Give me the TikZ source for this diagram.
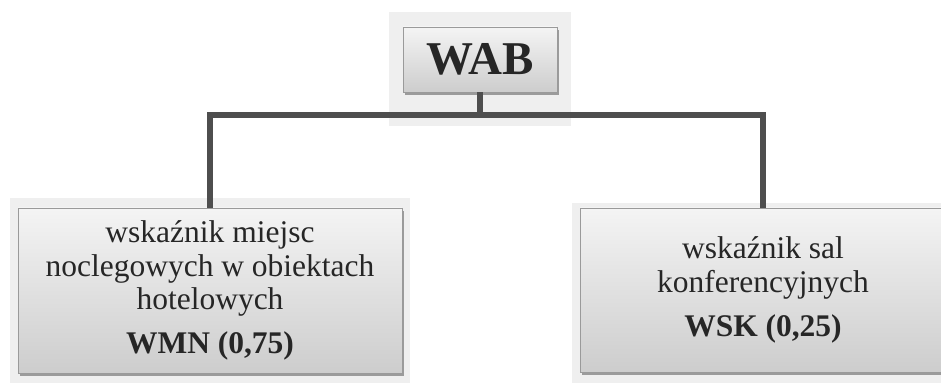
\documentclass[tikz,border=0pt]{standalone}
\usepackage{fontspec}
\setmainfont{Liberation Serif}
\usetikzlibrary{shadows}
\definecolor{panel}{HTML}{EFEFEF}
\definecolor{boxtop}{HTML}{F4F4F4}
\definecolor{boxbot}{HTML}{CDCDCD}
\definecolor{boxedge}{HTML}{9A9A9A}
\definecolor{linkc}{HTML}{4E4E4E}
\definecolor{txt}{HTML}{262626}
\tikzset{
  panelbox/.style={fill=panel, draw=none, inner sep=0pt},
  bevelbox/.style={draw=boxedge, line width=0.8pt, top color=boxtop, bottom color=boxbot,
    inner sep=0pt, align=center, text=txt,
    drop shadow={shadow xshift=1.5pt, shadow yshift=-3pt, fill=black, opacity=0.35}},
  bodytext/.style={font=\fontsize{31.5}{33.5}\selectfont},
  link/.style={draw=linkc, line width=6pt}
}
\begin{document}
\begin{tikzpicture}[x=1pt,y=1pt]
\useasboundingbox (0,0) rectangle (941,385);
\fill[white] (0,0) rectangle (941,385);
% background panels
\node[panelbox, minimum width=182pt, minimum height=114pt] (pT) at (480,316) {};
\node[panelbox, minimum width=400pt, minimum height=185pt] (pL) at (210,94.5) {};
\node[panelbox, minimum width=382pt, minimum height=180pt] (pR) at (763,92) {};
% boxes
\node[bevelbox, minimum width=154pt, minimum height=65pt, font=\fontsize{47}{50}\selectfont\bfseries] (wab) at (480,325.5) {WAB};
\node[bevelbox, bodytext, minimum width=384pt, minimum height=165pt] (wmn) at (210,94.5)
  {wskaźnik miejsc\\noclegowych w obiektach\\hotelowych\\[10pt]{\bfseries WMN (0,75)}};
\node[bevelbox, bodytext, minimum width=366pt, minimum height=164pt] (wsk) at (763,95)
  {wskaźnik sal\\konferencyjnych\\[11pt]{\bfseries WSK (0,25)}};
% connectors
\coordinate (hM) at (wab.south |- 0,270);
\coordinate (hL) at (wmn.north |- 0,270);
\coordinate (hR) at (wsk.north |- 0,270);
\draw[link] (wab.south) -- (hM);
\draw[link, line join=miter] (wmn.north) -- (hL) -- (hR) -- (wsk.north);
\end{tikzpicture}
\end{document}
